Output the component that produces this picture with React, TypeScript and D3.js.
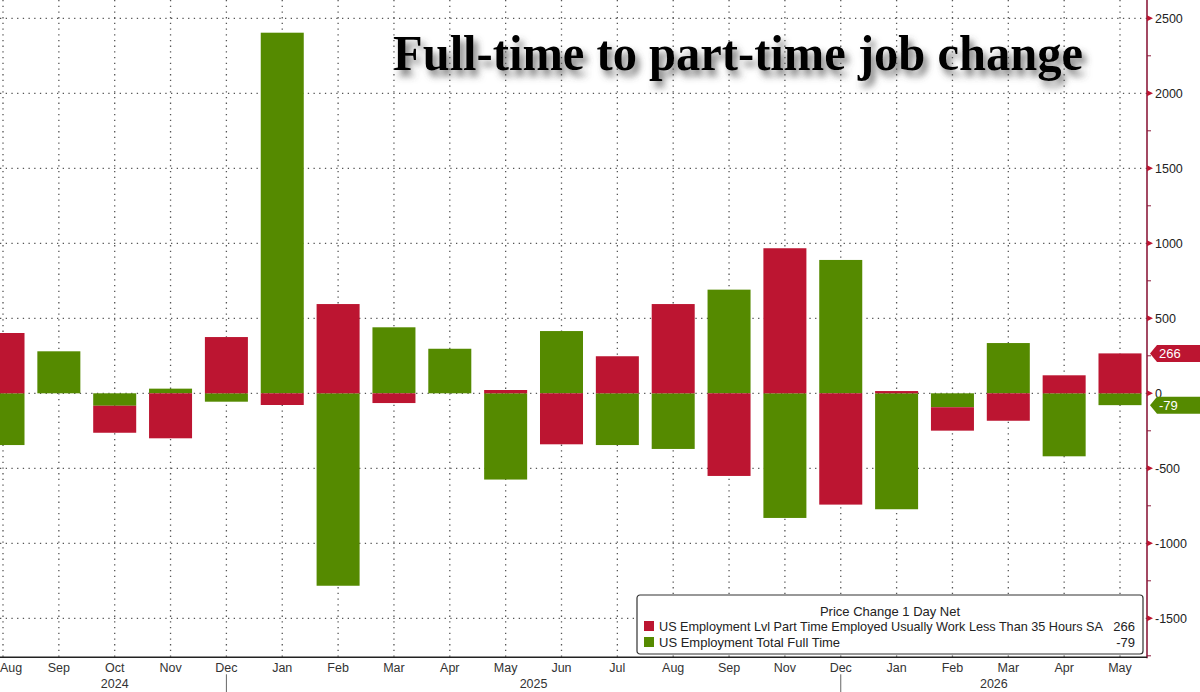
import React, { useEffect, useRef } from 'react';
import * as d3 from 'd3';

// monthly periods (Oct 2025 has no print)
const periods = [
  '2024-08', '2024-09', '2024-10', '2024-11', '2024-12',
  '2025-01', '2025-02', '2025-03', '2025-04', '2025-05', '2025-06', '2025-07',
  '2025-08', '2025-09', '2025-11', '2025-12',
  '2026-01', '2026-02', '2026-03', '2026-04', '2026-05',
];
const monthLabels = [
  'Aug', 'Sep', 'Oct', 'Nov', 'Dec',
  'Jan', 'Feb', 'Mar', 'Apr', 'May', 'Jun', 'Jul',
  'Aug', 'Sep', 'Nov', 'Dec',
  'Jan', 'Feb', 'Mar', 'Apr', 'May',
];
// change in thousands
const partTime = [402, 0, -180, -300, 375, -78, 595, -65, 0, 22, -340, 247, 595, -551, 967, -742, 15, -156, -183, 120, 266];
const fullTime = [-345, 280, -83, 31, -56, 2404, -1283, 440, 297, -575, 415, -345, -371, 691, -831, 889, -773, -93, 335, -420, -79];

const yearLabels = ['2024', '2025', '2026'];
const yearEnds = ['2024-12', '2025-12'];
const yTicks = [2500, 2000, 1500, 1000, 500, 0, -500, -1000, -1500];

const titleText = 'Full-time to part-time job change';
const legendTitle = 'Price Change 1 Day Net';
const seriesNames = [
  'US Employment Lvl Part Time Employed Usually Work Less Than 35 Hours SA',
  'US Employment Total Full Time',
];

const RED = '#bc1531';
const GREEN = '#558a00';
const AXIS = '#8c1c3c';
const FONT = '"Liberation Sans", Arial, sans-serif';

const App = () => {
  const svgRef = useRef(null);

  useEffect(() => {
    document.body.style.margin = '0';
    const W = 1200;
    const H = 692;
    const axisX = 1147;
    const plotBottom = 657.3;

    const svg = d3.select(svgRef.current);
    svg.selectAll('*').remove();
    svg.attr('width', W).attr('height', H).style('display', 'block').style('background', '#fff');

    const x = d3.scalePoint().domain(periods).range([3, 1120]);
    const barW = x.step() * 0.77;
    const y = d3.scaleLinear().domain([-1760, 2622]).range([plotBottom, 0]);

    const defs = svg.append('defs');
    const f = defs.append('filter').attr('id', 'shadow').attr('x', '-5%').attr('y', '-30%').attr('width', '115%').attr('height', '180%');
    f.append('feDropShadow').attr('dx', 4).attr('dy', 6).attr('stdDeviation', 3.5).attr('flood-color', '#4a4a4a').attr('flood-opacity', 0.75);
    defs.append('clipPath').attr('id', 'plot').append('rect').attr('x', 0).attr('y', 0).attr('width', axisX).attr('height', plotBottom);

    // ****************** Grid ***************************
    const grid = svg.append('g').attr('stroke', '#555').attr('stroke-width', 1.3).attr('stroke-dasharray', '1.3,4.4');
    grid.selectAll('line.h').data(yTicks).enter().append('line')
      .attr('x1', 0).attr('x2', axisX)
      .attr('y1', (d) => y(d)).attr('y2', (d) => y(d));
    grid.selectAll('line.v').data(periods).enter().append('line')
      .attr('x1', (d) => x(d)).attr('x2', (d) => x(d))
      .attr('y1', 0).attr('y2', plotBottom);

    // ****************** Bars ***************************
    const rows = periods.map((p, i) => ({ period: p, full: fullTime[i], part: partTime[i] }));
    const stacked = d3.stack().keys(['full', 'part']).offset(d3.stackOffsetDiverging)(rows);
    const colors = { full: GREEN, part: RED };

    const bars = svg.append('g').attr('clip-path', 'url(#plot)');
    stacked.forEach((layer) => {
      bars.selectAll(`rect.${layer.key}`).data(layer).enter().append('rect')
        .attr('x', (d) => x(d.data.period) - barW / 2)
        .attr('width', barW)
        .attr('y', (d) => y(Math.max(d[0], d[1])))
        .attr('height', (d) => Math.abs(y(d[0]) - y(d[1])))
        .attr('fill', colors[layer.key]);
    });

    // ****************** Title ***************************
    svg.append('text')
      .attr('x', 393).attr('y', 70)
      .attr('textLength', 690).attr('lengthAdjust', 'spacingAndGlyphs')
      .attr('font-family', '"Liberation Serif", "DejaVu Serif", serif')
      .attr('font-weight', 'bold').attr('font-size', 50)
      .attr('fill', '#000').attr('filter', 'url(#shadow)')
      .text(titleText);

    // ****************** Right axis ***************************
    const ax = svg.append('g');
    ax.append('line').attr('x1', axisX).attr('x2', axisX).attr('y1', 0).attr('y2', plotBottom + 1)
      .attr('stroke', AXIS).attr('stroke-width', 1.6);
    const minor = d3.range(-1750, 2622, 250).filter((v) => v % 500 !== 0);
    ax.selectAll('line.minor').data(minor).enter().append('line')
      .attr('x1', axisX).attr('x2', axisX + 4)
      .attr('y1', (d) => y(d)).attr('y2', (d) => y(d))
      .attr('stroke', AXIS).attr('stroke-width', 1);
    ax.selectAll('path.major').data(yTicks).enter().append('path')
      .attr('d', (d) => `M${axisX},${y(d) - 3}L${axisX + 6},${y(d)}L${axisX},${y(d) + 3}Z`)
      .attr('fill', RED);
    ax.selectAll('text').data(yTicks).enter().append('text')
      .attr('x', axisX + 8).attr('y', (d) => y(d)).attr('dy', '0.36em')
      .attr('font-family', FONT).attr('font-size', 12.5)
      .attr('fill', '#222')
      .text((d) => String(d));

    // last value tags
    const lastIdx = periods.length - 1;
    const tags = [
      { v: partTime[lastIdx], c: RED },
      { v: fullTime[lastIdx], c: GREEN },
    ];
    const tg = svg.append('g').selectAll('g').data(tags).enter().append('g')
      .attr('transform', (d) => `translate(${axisX + 3},${y(d.v)})`);
    tg.append('path')
      .attr('d', 'M0,0L7,-8.5L50,-8.5L50,8.5L7,8.5Z')
      .attr('fill', (d) => d.c);
    tg.append('text')
      .attr('x', 9).attr('dy', '0.36em')
      .attr('font-family', FONT).attr('font-size', 13)
      .attr('fill', '#fff')
      .text((d) => String(d.v));

    // ****************** X axis ***************************
    svg.append('line').attr('x1', 0).attr('x2', axisX).attr('y1', plotBottom).attr('y2', plotBottom)
      .attr('stroke', '#222').attr('stroke-width', 1.5);
    svg.append('g').selectAll('text').data(periods).enter().append('text')
      .attr('x', (d, i) => (i === 0 ? 0 : x(d))).attr('y', 672)
      .attr('text-anchor', (d, i) => (i === 0 ? 'start' : 'middle'))
      .attr('font-family', FONT).attr('font-size', 12.5)
      .attr('fill', '#333')
      .text((d, i) => monthLabels[i]);

    svg.append('g').selectAll('line').data(yearEnds).enter().append('line')
      .attr('x1', (d) => x(d)).attr('x2', (d) => x(d))
      .attr('y1', plotBottom + 17).attr('y2', H)
      .attr('stroke', '#666').attr('stroke-width', 1);

    const bounds = [x(periods[0]), ...yearEnds.map((d) => x(d)), axisX];
    svg.append('g').selectAll('text').data(yearLabels).enter().append('text')
      .attr('x', (d, i) => (bounds[i] + bounds[i + 1]) / 2).attr('y', 688)
      .attr('text-anchor', 'middle')
      .attr('font-family', FONT).attr('font-size', 12.5)
      .attr('fill', '#333')
      .text((d) => d);

    // ****************** Legend ***************************
    const lg = svg.append('g').attr('transform', 'translate(637,595)');
    lg.append('rect').attr('width', 506).attr('height', 59).attr('rx', 3)
      .attr('fill', '#fff').attr('stroke', '#333').attr('stroke-width', 1.2);
    lg.append('text').attr('x', 253).attr('y', 21).attr('text-anchor', 'middle')
      .attr('font-family', FONT).attr('font-size', 13)
      .attr('fill', '#222').text(legendTitle);
    const entries = [
      { name: seriesNames[0], v: partTime[lastIdx], c: RED, len: 444 },
      { name: seriesNames[1], v: fullTime[lastIdx], c: GREEN, len: null },
    ];
    const le = lg.selectAll('g.e').data(entries).enter().append('g')
      .attr('transform', (d, i) => `translate(0,${36 + i * 16})`);
    le.append('rect').attr('x', 7).attr('y', -10).attr('width', 10).attr('height', 10).attr('fill', (d) => d.c);
    le.append('text').attr('x', 22).attr('y', 0)
      .attr('textLength', (d) => d.len)
      .attr('lengthAdjust', 'spacingAndGlyphs')
      .attr('font-family', FONT).attr('font-size', 13)
      .attr('fill', '#222').text((d) => d.name);
    le.append('text').attr('x', 498).attr('y', 0).attr('text-anchor', 'end')
      .attr('font-family', FONT).attr('font-size', 13)
      .attr('fill', '#222').text((d) => String(d.v));
  }, []);

  return <svg ref={svgRef}></svg>;
};

export default App;
